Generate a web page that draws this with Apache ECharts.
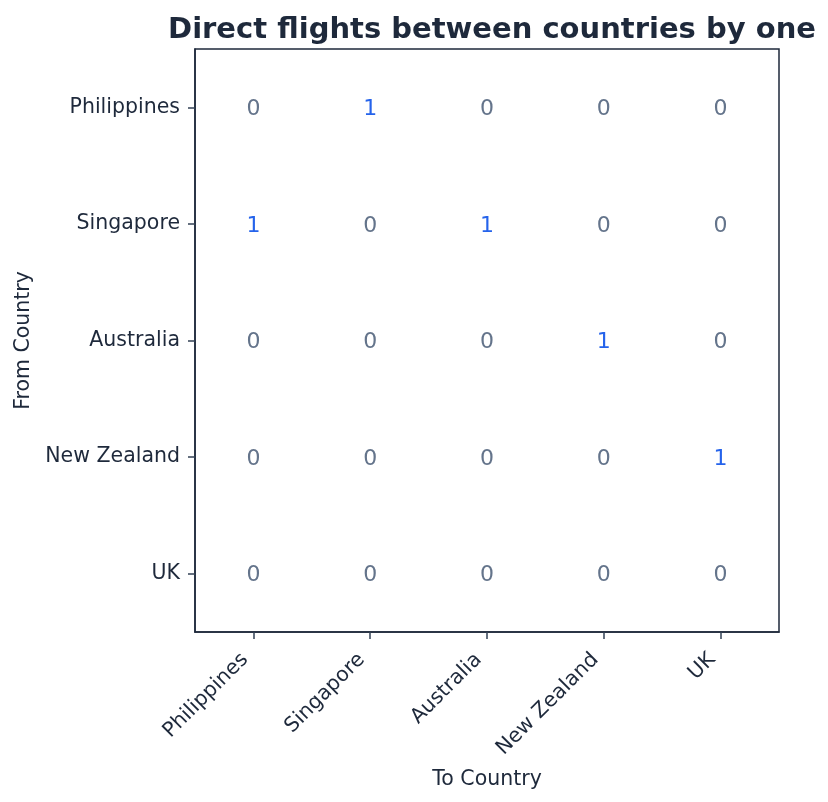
<!DOCTYPE html>
<html><head><meta charset="utf-8">
<script src="https://cdn.jsdelivr.net/npm/echarts@6/dist/echarts.min.js"></script>
<style>html,body{margin:0;padding:0;background:#fff}#c{width:828px;height:802px}</style>
</head><body><div id="c"></div>
<script>
const countries = ["Philippines", "Singapore", "Australia", "New Zealand", "UK"];
// rows = from, columns = to
const flights = [
  [0, 1, 0, 0, 0],
  [1, 0, 1, 0, 0],
  [0, 0, 0, 1, 0],
  [0, 0, 0, 0, 1],
  [0, 0, 0, 0, 0]
];
const titleText = "Direct flights between countries by one";
const xName = "To Country";
const yName = "From Country";

const data = [];
flights.forEach((row, i) => row.forEach((v, j) => {
  data.push({value: [j, i, v], label: {color: v ? "#2563eb" : "#64748b"}});
}));
const font = "'DejaVu Sans', sans-serif";
const chart = echarts.init(document.getElementById("c"), null, {renderer: "canvas"});
chart.setOption({
  backgroundColor: "#fff",
  animation: false,
  textStyle: {fontFamily: font},
  title: {text: titleText, left: 487, textAlign: "center", top: 11,
    textStyle: {fontFamily: font, fontSize: 29, fontWeight: "bold", color: "#1e293b"}},
  grid: {left: 195, top: 49, width: 584, height: 583, show: true, borderColor: "#1e293b", borderWidth: 1.5, backgroundColor: "transparent"},
  xAxis: {type: "category", data: countries, name: xName, nameLocation: "middle", nameGap: 137,
    nameTextStyle: {fontFamily: font, fontSize: 20.5, color: "#1e293b"},
    axisLine: {show: true, lineStyle: {color: "#1e293b", width: 1.5}},
    axisTick: {show: true, alignWithLabel: true, length: 7, lineStyle: {color: "#334155", width: 1.5}},
    axisLabel: {rotate: 45, fontFamily: font, fontSize: 20.5, color: "#1e293b", margin: 16, padding: [0, 12, 0, 0]},
    splitLine: {show: false}},
  yAxis: {type: "category", data: countries, inverse: true, name: yName, nameLocation: "middle", nameGap: 161,
    nameTextStyle: {fontFamily: font, fontSize: 20.5, color: "#1e293b"},
    axisLine: {show: true, lineStyle: {color: "#1e293b", width: 1.5}},
    axisTick: {show: true, alignWithLabel: true, length: 7, lineStyle: {color: "#334155", width: 1.5}},
    axisLabel: {fontFamily: font, fontSize: 20.5, color: "#1e293b", margin: 15, padding: [3, 0, 0, 0]},
    splitLine: {show: false}},
  series: [{type: "heatmap", data: data,
    itemStyle: {color: "rgba(0,0,0,0)"},
    label: {show: true, formatter: p => String(p.value[2]), fontFamily: font, fontSize: 22, offset: [0, 2]},
    emphasis: {disabled: true}}]
});
</script></body></html>
